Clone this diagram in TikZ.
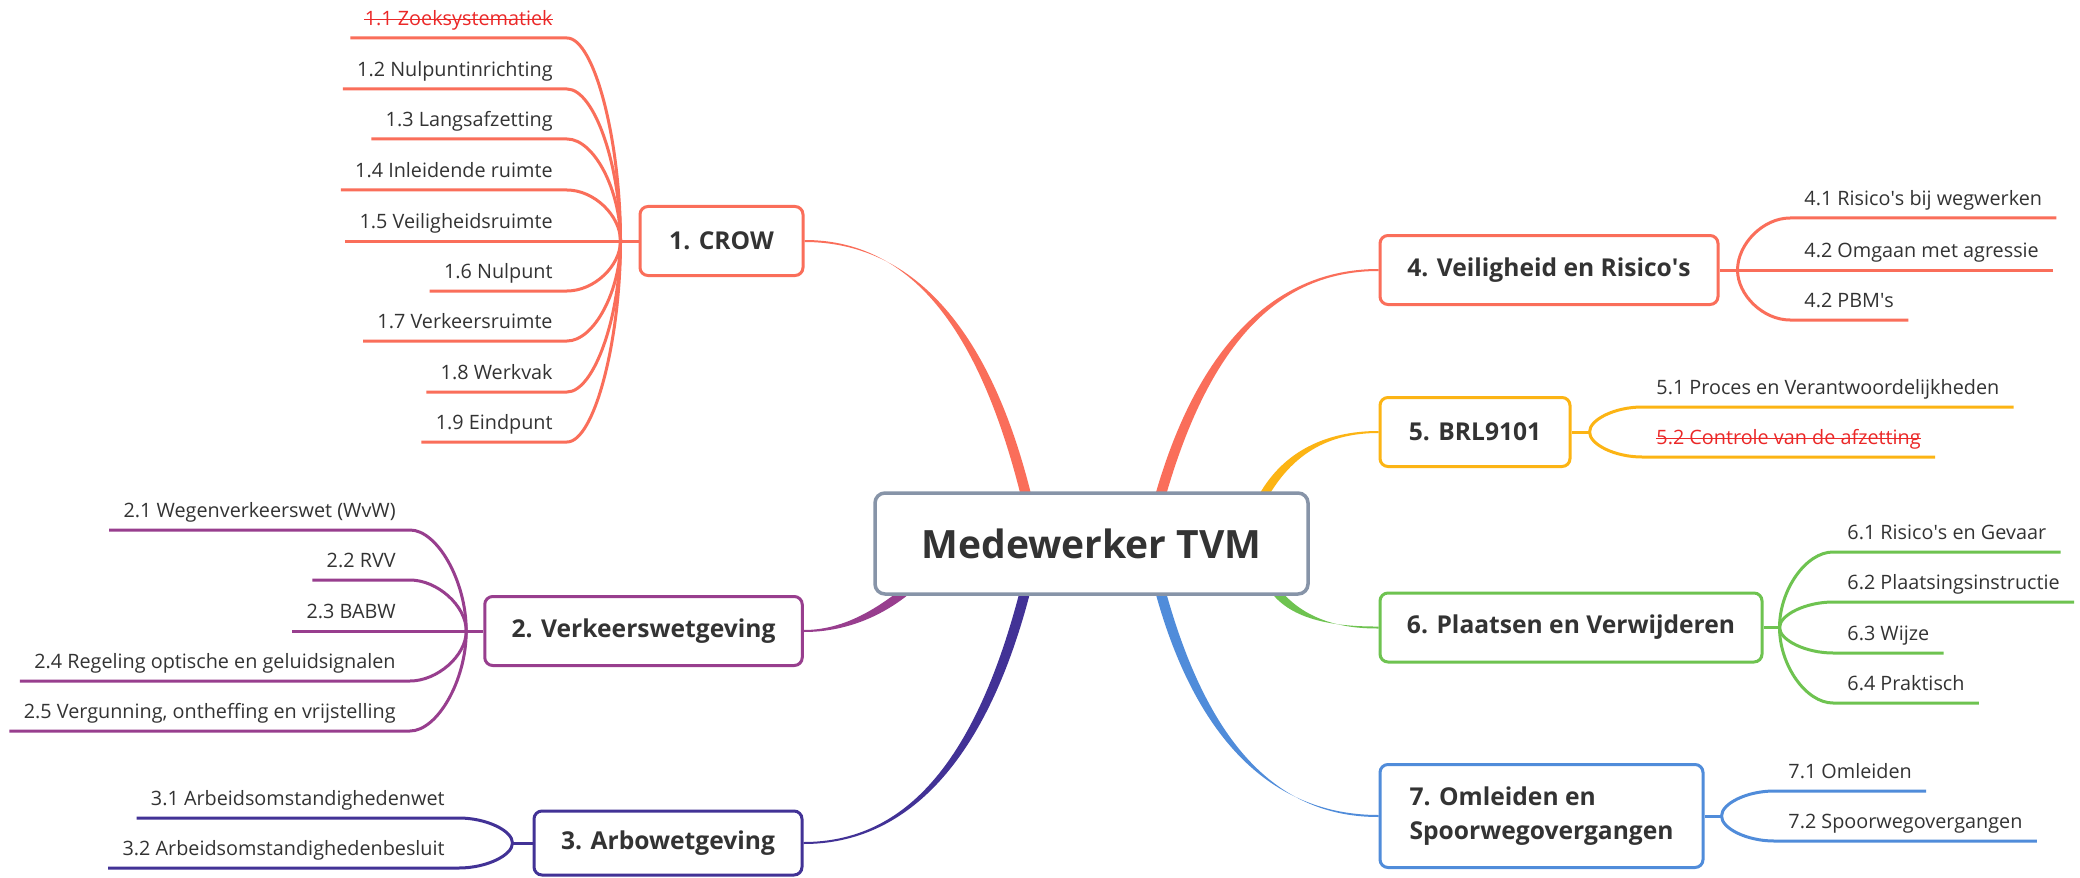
\documentclass[tikz,border=0pt]{standalone}
\usepackage{fontspec}
\setmainfont{Open Sans}
\usetikzlibrary{calc,backgrounds}
\definecolor{txt}{RGB}{51,51,51}
\definecolor{cRed}{RGB}{250,110,90}
\definecolor{cStrike}{RGB}{235,40,40}
\definecolor{cPur}{RGB}{152,62,142}
\definecolor{cInd}{RGB}{66,50,150}
\definecolor{cYel}{RGB}{252,180,20}
\definecolor{cGrn}{RGB}{110,195,80}
\definecolor{cBlu}{RGB}{80,140,218}
\definecolor{cCtr}{RGB}{135,148,168}
% tapered main branch: color, start, quad control, end, end half-width vector
\newcommand\mmbranch[5]{%
  \fill[#1] ($(#2)+(0,1)$) .. controls ($(#2)!0.6667!(#3)+(0,1)$) and ($(#4)!0.6667!(#3)+(#5)$) .. ($(#4)+(#5)$)
    -- ($(#4)-(#5)$) .. controls ($(#4)!0.6667!(#3)-(#5)$) and ($(#2)!0.6667!(#3)-(0,1)$) .. ($(#2)-(0,1)$) -- cycle;}
\newcommand\leafconL[3]{\draw[leafline=#3] (#2.south west) -- (#2.south east) .. controls +(27,0) and ($(#1)!0.5!(#1 |- #2.south east)$) .. (#1);}
\newcommand\leafconR[3]{\draw[leafline=#3] (#2.south east) -- (#2.south west) .. controls +(-27,0) and ($(#1)!0.5!(#1 |- #2.south west)$) .. (#1);}
\newcommand\strikeout[1]{\draw[cStrike, line width=0.75pt] ($(#1.base west)+(14,-6)$) -- ($(#1.base east)+(-14,-6)$);}
\begin{document}
\begin{tikzpicture}[x=0.5pt,y=-0.5pt,
  leaf/.style={font=\fontsize{9.9}{12}\selectfont, text=txt, inner xsep=7pt, inner ysep=6pt, text depth=0pt},
  leafL/.style={leaf, anchor=south east},
  leafR/.style={leaf, anchor=south west},
  struck/.style={text=cStrike},
  topic/.style={draw=#1, line width=1.5pt, rounded corners=4pt, fill=white, text=txt,
    font=\fontsize{12.3}{17}\selectfont\bfseries, inner sep=0pt, align=center},
  ctrbox/.style={draw=cCtr, line width=1.75pt, rounded corners=5pt, fill=white, text=txt,
    font=\fontsize{19.5}{24}\selectfont\bfseries, inner sep=0pt, minimum width=216.5pt, minimum height=50.5pt},
  leafline/.style={draw=#1, line width=1.5pt, line join=round},
  stub/.style={draw=#1, line width=1.5pt}
]
\useasboundingbox (0,0) rectangle (2080,877);

% central topic
\node[ctrbox] (ctr) at (1091.5,543.5) {Medewerker TVM};

% main topics
\node[topic=cRed, minimum width=81.5pt, minimum height=34.5pt] (t1) at (721.5,241) {1. CROW};
\node[topic=cPur, minimum width=158.75pt, minimum height=34.5pt] (t2) at (643.5,631) {2. Verkeerswetgeving};
\node[topic=cInd, minimum width=134pt, minimum height=32pt] (t3) at (668,843) {3. Arbowetgeving};
\node[topic=cRed, minimum width=169pt, minimum height=34.5pt] (t4) at (1549,270) {4. Veiligheid en Risico\textquotesingle s};
\node[topic=cYel, minimum width=95pt, minimum height=34.5pt] (t5) at (1475,432) {5. BRL9101};
\node[topic=cGrn, minimum width=191pt, minimum height=34.5pt] (t6) at (1571,627.5) {6. Plaatsen en Verwijderen};
\node[topic=cBlu, minimum width=161.5pt, minimum height=51.5pt, align=left] (t7) at (1541.5,816) {7. Omleiden en\\Spoorwegovergangen};

% leaves group 1
\node[leafL, struck] (l11) at (567,38) {1.1 Zoeksystematiek};
\node[leafL] (l12) at (567,89) {1.2 Nulpuntinrichting};
\node[leafL] (l13) at (567,139) {1.3 Langsafzetting};
\node[leafL] (l14) at (567,190) {1.4 Inleidende ruimte};
\node[leafL] (l15) at (567,241) {1.5 Veiligheidsruimte};
\node[leafL] (l16) at (567,291) {1.6 Nulpunt};
\node[leafL] (l17) at (567,341) {1.7 Verkeersruimte};
\node[leafL] (l18) at (567,392) {1.8 Werkvak};
\node[leafL] (l19) at (567,442) {1.9 Eindpunt};
% group 2
\node[leafL] (l21) at (410,530) {2.1 Wegenverkeerswet (WvW)};
\node[leafL] (l22) at (410,580) {2.2 RVV};
\node[leafL] (l23) at (410,631) {2.3 BABW};
\node[leafL] (l24) at (410,681) {2.4 Regeling optische en geluidsignalen};
\node[leafL] (l25) at (410,731) {2.5 Vergunning, ontheffing en vrijstelling};
% group 3
\node[leafL] (l31) at (459,818) {3.1 Arbeidsomstandighedenwet};
\node[leafL] (l32) at (459,868) {3.2 Arbeidsomstandighedenbesluit};
% group 4
\node[leafR] (l41) at (1790,218) {4.1 Risico\textquotesingle s bij wegwerken};
\node[leafR] (l42) at (1790,270) {4.2 Omgaan met agressie};
\node[leafR] (l43) at (1790,320) {4.2 PBM\textquotesingle s};
% group 5
\node[leafR] (l51) at (1642,407) {5.1 Proces en Verantwoordelijkheden};
\node[leafR, struck] (l52) at (1642,457) {5.2 Controle van de afzetting};
% group 6
\node[leafR] (l61) at (1833,552) {6.1 Risico\textquotesingle s en Gevaar};
\node[leafR] (l62) at (1833,602) {6.2 Plaatsingsinstructie};
\node[leafR] (l63) at (1833,653) {6.3 Wijze};
\node[leafR] (l64) at (1833,703) {6.4 Praktisch};
% group 7
\node[leafR] (l71) at (1774,791) {7.1 Omleiden};
\node[leafR] (l72) at (1774,841) {7.2 Spoorwegovergangen};

% strike-through of the struck items
\strikeout{l11}
\strikeout{l52}

% junctions
\coordinate (j1) at ($(t1.west)+(-18,0)$);
\coordinate (j2) at ($(t2.west)+(-17,0)$);
\coordinate (j3) at ($(t3.west)+(-20,0)$);
\coordinate (j4) at ($(t4.east)+(18,0)$);
\coordinate (j5) at ($(t5.east)+(18,0)$);
\coordinate (j6) at ($(t6.east)+(16,0)$);
\coordinate (j7) at ($(t7.east)+(17,0)$);
% attach points on the central topic
\coordinate (e1) at ($(ctr.north west)+(153,5)$);
\coordinate (e4) at ($(ctr.north west)+(287,5)$);
\coordinate (e5) at ($(ctr.north west)+(390,5)$);
\coordinate (e2) at ($(ctr.south west)+(33,-5)$);
\coordinate (e3) at ($(ctr.south west)+(152,-5)$);
\coordinate (e7) at ($(ctr.south west)+(287,-5)$);
\coordinate (e6) at ($(ctr.south west)+(402,-5)$);

\begin{scope}[on background layer]
\fill[white] (0,0) rectangle (2080,877);
% main branches
\mmbranch{cRed}{t1.east}{963,241}{e1}{5,-1.3}
\mmbranch{cRed}{t4.west}{1225,270}{e4}{5,1.4}
\mmbranch{cYel}{t5.west}{1300,432}{e5}{3.8,2.2}
\mmbranch{cPur}{t2.east}{856,631}{e2}{2.5,3.5}
\mmbranch{cInd}{t3.east}{960,843}{e3}{5,1.3}
\mmbranch{cBlu}{t7.west}{1222,816}{e7}{5,-1.3}
\mmbranch{cGrn}{t6.west}{1305,628}{e6}{3.3,-2.7}
% stubs
\draw[stub=cRed] (j1) -- (t1.west);
\draw[stub=cPur] (j2) -- (t2.west);
\draw[stub=cInd] (j3) -- (t3.west);
\draw[stub=cRed] (j4) -- (t4.east);
\draw[stub=cYel] (j5) -- (t5.east);
\draw[stub=cGrn] (j6) -- (t6.east);
\draw[stub=cBlu] (j7) -- (t7.east);
% leaf connectors
\foreach \n in {l11,l12,l13,l14,l15,l16,l17,l18,l19} {\leafconL{j1}{\n}{cRed}}
\foreach \n in {l21,l22,l23,l24,l25} {\leafconL{j2}{\n}{cPur}}
\foreach \n in {l31,l32} {\leafconL{j3}{\n}{cInd}}
\foreach \n in {l41,l42,l43} {\leafconR{j4}{\n}{cRed}}
\foreach \n in {l51,l52} {\leafconR{j5}{\n}{cYel}}
\foreach \n in {l61,l62,l63,l64} {\leafconR{j6}{\n}{cGrn}}
\foreach \n in {l71,l72} {\leafconR{j7}{\n}{cBlu}}
\end{scope}
\end{tikzpicture}
\end{document}
